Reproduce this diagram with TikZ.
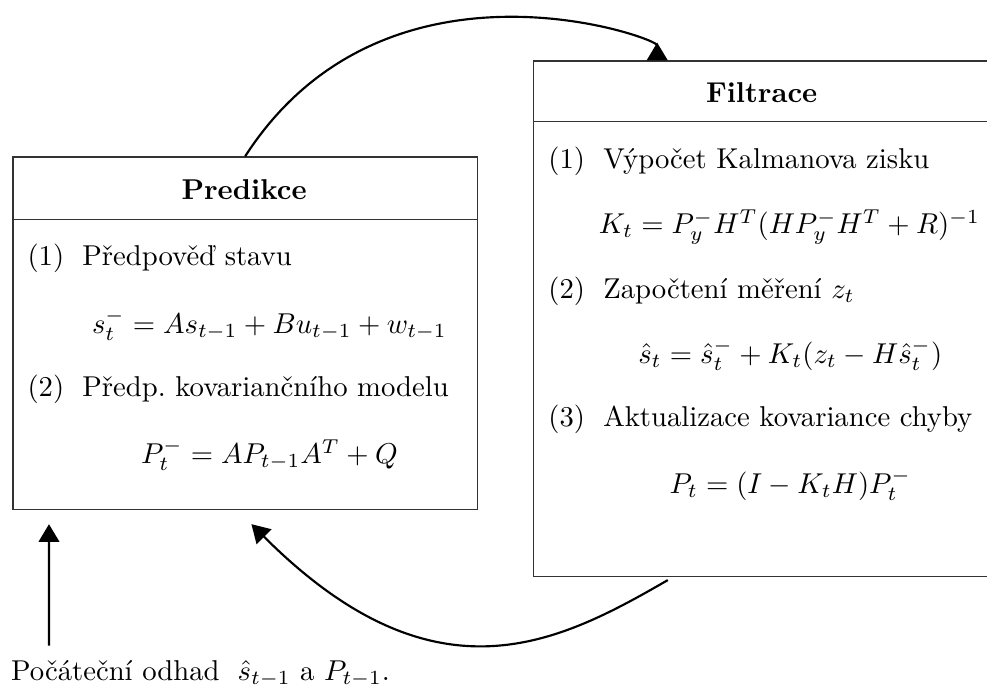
\documentclass[tikz,border=0pt]{standalone}
\usepackage{fontspec}
\usetikzlibrary{arrows.meta}

\begin{document}
\begin{tikzpicture}[
  box/.style={draw=black!80,line width=0.45pt,inner sep=0pt},
  flow/.style={-{Triangle[length=6.2pt,width=7.2pt]},line width=0.75pt},
  backflow/.style={-{Triangle[length=6.2pt,width=7.2pt,reversed]},line width=0.75pt},
  title/.style={font=\bfseries,anchor=base,inner sep=0pt},
  txt/.style={anchor=base west,inner sep=0pt},
  formula/.style={anchor=base,inner sep=0pt},
]
\useasboundingbox (0,0) rectangle (12.09,8.43);
% the two boxes
\node[box,anchor=north west,minimum width=5.69cm,minimum height=4.32cm] (pred) at (0.15,6.515) {};
\node[box,anchor=north west,minimum width=5.61cm,minimum height=6.31cm] (filt) at (6.53,7.69) {};
\draw[box] ([yshift=-0.77cm]pred.north west) -- ([yshift=-0.77cm]pred.north east);
\draw[box] ([yshift=-0.75cm]filt.north west) -- ([yshift=-0.75cm]filt.north east);
\node[title] (predtitle) at (2.99,5.985) {Predikce};
\node[title] (filttitle) at (9.33,7.173) {Filtrace};
% prediction steps
\node[txt] (p1) at (0.33,5.18) {(1)\hspace{6.35pt}Předpověď stavu};
\node[formula] (p1eq) at (3.30,4.344) {$s_t^- = As_{t-1} + Bu_{t-1} + w_{t-1}$};
\node[txt] (p2) at (0.33,3.568) {(2)\hspace{6.35pt}Předp.\ kovariančního modelu};
\node[formula] (p2eq) at (3.30,2.752) {$P_t^- = AP_{t-1}A^T + Q$};
% filtering steps
\node[txt] (f1) at (6.71,6.365) {(1)\hspace{6.35pt}Výpočet Kalmanova zisku};
\node[formula] (f1eq) at (9.67,5.569) {$K_t = P_y^- H^T(HP_y^- H^T + R)^{-1}$};
\node[txt] (f2) at (6.71,4.773) {(2)\hspace{6.35pt}Započtení měření $z_t$};
\node[formula] (f2eq) at (9.68,3.977) {$\hat{s}_t = \hat{s}_t^- + K_t(z_t - H\hat{s}_t^-)$};
\node[txt] (f3) at (6.71,3.200) {(3)\hspace{6.35pt}Aktualizace kovariance chyby};
\node[formula] (f3eq) at (9.68,2.385) {$P_t = (I - K_tH)P_t^-$};
\node[txt] (init) at (0.13,0.098) {Počáteční odhad\hspace{6.3pt}$\hat{s}_{t-1}$ a $P_{t-1}$.};
% arrows
\coordinate (start) at (0.60,0.52);
\draw[flow] (start) -- ([xshift=0.45cm,yshift=-0.17cm]pred.south west);
\draw[backflow] (pred.north) .. controls +(57.2:3.15) and +(0,0.28) .. ([xshift=1.52cm]filt.north west);
\draw[flow] ([xshift=1.65cm,yshift=-0.04cm]filt.south west) .. controls +(210:1.55) and +(-45:3.18) .. ([xshift=2.93cm,yshift=-0.17cm]pred.south west);
\end{tikzpicture}
\end{document}
